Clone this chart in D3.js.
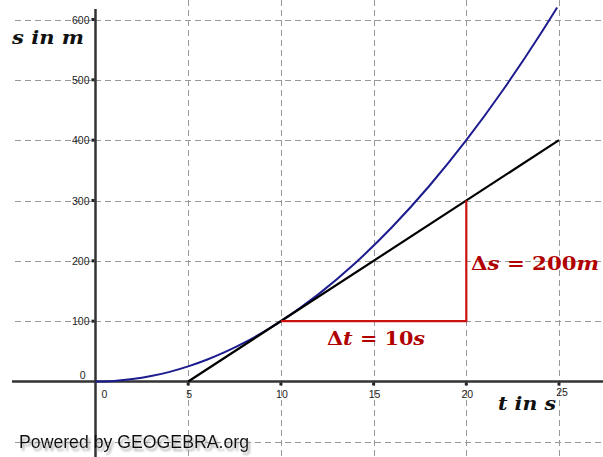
<!DOCTYPE html>
<html>
<head>
<meta charset="utf-8">
<script src="https://cdn.jsdelivr.net/npm/d3@7.9.0/dist/d3.min.js"></script>
<style>
  body { margin: 0; background: #fff; }
  svg { display: block; }
  .tick-label { font-family: Arial, "Liberation Sans", sans-serif; font-size: 10.5px; fill: #222; }
  .math { font-family: "DejaVu Serif", "Liberation Serif", serif; font-weight: bold; }
  .math .it { font-style: italic; }
</style>
</head>
<body>
<div id="chart"></div>
<script>
// values
const xTicks = [5, 10, 15, 20, 25];
const yTicks = [100, 200, 300, 400, 500, 600];
const gridX = [5, 10, 15, 20, 25];
const gridY = [-100, 100, 200, 300, 400, 500, 600];
// s(t) curve, read at a few points
const curveT = [0, 1, 2, 3, 4, 5, 6, 7, 8, 9, 10, 12, 14, 16, 18, 20, 22, 24, 24.9];
const curveS = [0, 1, 4, 9, 16, 25, 36, 49, 64, 81, 100, 144, 196, 256, 324, 400, 484, 576, 620];
// tangent at t = 10
const tangentT = [5, 25];
const tangentS = [0, 400];
// slope triangle
const triT = [10, 20, 20];
const triS = [100, 100, 300];

const width = 603;
const height = 457;

const x = d3.scaleLinear().domain([0, 25]).range([95.5, 559]);
const y = d3.scaleLinear().domain([0, 600]).range([381.5, 19.5]);

const svg = d3.select("#chart").append("svg")
  .attr("width", width)
  .attr("height", height);

const defs = svg.append("defs");
const shadow = defs.append("filter").attr("id", "shadow")
  .attr("x", "-5%").attr("y", "-20%").attr("width", "115%").attr("height", "160%");
shadow.append("feDropShadow")
  .attr("dx", 2).attr("dy", 3).attr("stdDeviation", 1)
  .attr("flood-color", "#999").attr("flood-opacity", 0.8);

svg.append("rect").attr("width", width).attr("height", height).attr("fill", "#fff");

// grid
const grid = svg.append("g")
  .attr("stroke", "#999")
  .attr("stroke-width", 1)
  .attr("stroke-dasharray", "6,4");

grid.selectAll(".gx").data(gridX).join("line")
  .attr("x1", d => Math.round(x(d)) + 0.5).attr("x2", d => Math.round(x(d)) + 0.5)
  .attr("y1", 0).attr("y2", height);

grid.selectAll(".gy").data(gridY).join("line")
  .attr("x1", 15).attr("x2", width)
  .attr("y1", d => Math.round(y(d)) + 0.5).attr("y2", d => Math.round(y(d)) + 0.5);

// axes
svg.append("line")
  .attr("x1", 12).attr("x2", width)
  .attr("y1", y(0)).attr("y2", y(0))
  .attr("stroke", "#333").attr("stroke-width", 2.5);

svg.append("line")
  .attr("x1", x(0)).attr("x2", x(0))
  .attr("y1", 9).attr("y2", height)
  .attr("stroke", "#333").attr("stroke-width", 2.5);

// tick dots
svg.selectAll(".tx").data(xTicks).join("rect")
  .attr("x", d => x(d) - 1.5).attr("y", y(0) + 1)
  .attr("width", 3).attr("height", 3).attr("fill", "#222");
svg.selectAll(".ty").data(yTicks).join("rect")
  .attr("x", x(0) - 4).attr("y", d => y(d) - 1.5)
  .attr("width", 3).attr("height", 3).attr("fill", "#222");

// tick labels
svg.selectAll(".lx").data(xTicks).join("text")
  .attr("class", "tick-label")
  .attr("x", d => x(d) + (d === 25 ? 3 : 1))
  .attr("y", d => y(0) + (d === 25 ? 14 : 16))
  .attr("text-anchor", "middle")
  .text(d => d);

svg.append("text").attr("class", "tick-label")
  .attr("x", x(0) + 9).attr("y", y(0) + 16)
  .attr("text-anchor", "middle").text("0");

svg.selectAll(".ly").data(yTicks).join("text")
  .attr("class", "tick-label")
  .attr("x", x(0) - 6)
  .attr("y", d => y(d) + 4)
  .attr("text-anchor", "end")
  .text(d => d);

svg.append("text").attr("class", "tick-label")
  .attr("x", x(0) - 10).attr("y", y(0) - 3)
  .attr("text-anchor", "end").text("0");

// curve s(t)
const curvePts = curveT.map((t, i) => [t, curveS[i]]);
svg.append("path")
  .datum(curvePts)
  .attr("fill", "none")
  .attr("stroke", "#1c1c8f")
  .attr("stroke-width", 2)
  .attr("d", d3.line().x(d => x(d[0])).y(d => y(d[1])).curve(d3.curveMonotoneX));

// tangent
svg.append("path")
  .datum(tangentT.map((t, i) => [t, tangentS[i]]))
  .attr("fill", "none")
  .attr("stroke", "#000")
  .attr("stroke-width", 2.2)
  .attr("d", d3.line().x(d => x(d[0])).y(d => y(d[1])));

// slope triangle
svg.append("path")
  .datum(triT.map((t, i) => [t, triS[i]]))
  .attr("fill", "none")
  .attr("stroke", "#cc1111")
  .attr("stroke-width", 2.2)
  .attr("d", d3.line().x(d => x(d[0])).y(d => y(d[1])));

// math labels: [text, italic?] parts
function mathLabel(parts, px, py, color, len) {
  const t = svg.append("text").attr("class", "math")
    .attr("x", px).attr("y", py)
    .attr("font-size", 19).attr("fill", color)
    .attr("textLength", len).attr("lengthAdjust", "spacingAndGlyphs");
  parts.forEach(([s, it]) => t.append("tspan").attr("class", it ? "it" : null).text(s));
}

mathLabel([["s", 1], [" ", 0], ["in", 1], [" ", 0], ["m", 1]], 12, 44, "#111", 72);
mathLabel([["t", 1], [" ", 0], ["in", 1], [" ", 0], ["s", 1]], 498, 410, "#111", 58);
mathLabel([["Δ", 0], ["s", 1], [" = 200", 0], ["m", 1]], 471, 270, "#b00000", 128);
mathLabel([["Δ", 0], ["t", 1], [" = 10", 0], ["s", 1]], 327, 345, "#b00000", 98);

// watermark
svg.append("text")
  .attr("x", 19).attr("y", 448)
  .attr("font-family", "Arial, 'Liberation Sans', sans-serif")
  .attr("font-size", 17.5)
  .attr("textLength", 230).attr("lengthAdjust", "spacingAndGlyphs")
  .attr("fill", "#111")
  .attr("filter", "url(#shadow)")
  .text("Powered by GEOGEBRA.org");
</script>
</body>
</html>
